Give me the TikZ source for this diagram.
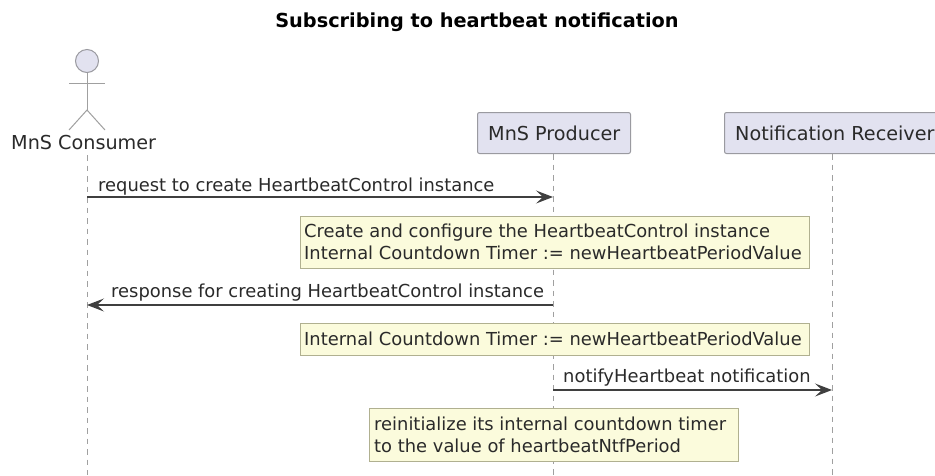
\documentclass[tikz,border=0pt]{standalone}
\usepackage{fontspec}
\setmainfont{DejaVu Sans}
\usetikzlibrary{arrows.meta}
\definecolor{actorfill}{HTML}{E2E2F0}
\definecolor{linegray}{HTML}{A0A0A0}
\definecolor{boxline}{HTML}{9A9AA0}
\definecolor{notefill}{HTML}{FBFBDC}
\definecolor{noteline}{HTML}{B0B090}
\definecolor{txt}{HTML}{2A2A2A}
\tikzset{
  x=1pt,y=-1pt,
  lifeline/.style={draw=linegray,line width=1pt,dash pattern=on 5.5pt off 5pt},
  actorline/.style={draw=linegray,line width=1pt},
  partbox/.style={draw=boxline,fill=actorfill,line width=1pt,rounded corners=2pt,anchor=north west,minimum height=41pt,inner sep=0pt},
  notebox/.style={draw=noteline,fill=notefill,line width=1pt,anchor=north west,inner sep=0pt},
  msg/.style={draw=txt!90,line width=1.2pt},
  tip/.style={-{Stealth[length=17pt,width=13pt,inset=7pt]}},
  lbl/.style={font=\fontsize{17.9pt}{21pt}\selectfont,text=txt,inner sep=0pt,anchor=west},
  biglbl/.style={lbl,font=\fontsize{19.2pt}{23pt}\selectfont},
  titlelbl/.style={font=\fontsize{19.3pt}{23pt}\selectfont\bfseries,text=black,inner sep=0pt},
}
\begin{document}
\begin{tikzpicture}
\useasboundingbox (0,0) rectangle (935,475);
\fill[white] (0,0) rectangle (935,475);
\node[titlelbl] (title) at (477,22) {Subscribing to heartbeat notification};
% lifelines
\coordinate (c1) at (87,155); \coordinate (c2) at (87,475);
\coordinate (p1) at (553,154); \coordinate (p2) at (553,475);
\coordinate (r1) at (832,154); \coordinate (r2) at (832,475);
\draw[lifeline] (c1) -- (c2);
\draw[lifeline] (p1) -- (p2);
\draw[lifeline] (r1) -- (r2);
% actor
\node[circle,draw=boxline,fill=actorfill,line width=1pt,minimum size=23pt,inner sep=0pt] (head) at (87,61) {};
\coordinate (hip) at (87,110);
\coordinate (armL) at (69,83); \coordinate (armR) at (105,83);
\coordinate (legL) at (69,130); \coordinate (legR) at (105,130);
\draw[actorline] (head.south) -- (hip);
\draw[actorline] (armL) -- (armR);
\draw[actorline] (legL) -- (hip) -- (legR);
\node[biglbl] (consumer) at (11,143) {MnS Consumer};
% participants
\node[partbox,minimum width=153pt] (producer) at (477,112) {};
\node[biglbl] (producerT) at (488,133) {MnS Producer};
\node[partbox,minimum width=225pt] (receiver) at (724,112) {};
\node[biglbl] (receiverT) at (735,133) {Notification Receiver};
% messages
\coordinate (m1a) at (87,197); \coordinate (m1b) at (553,197);
\draw[msg,tip] (m1a) -- (m1b);
\node[lbl] (m1) at (98,187) {request to create HeartbeatControl instance};
\node[notebox,minimum width=509pt,minimum height=52pt] (n1) at (300,216) {};
\node[lbl] (n1a) at (304,233) {Create and configure the HeartbeatControl instance};
\node[lbl] (n1b) at (304,253) {Internal Countdown Timer := newHeartbeatPeriodValue};
\coordinate (m2a) at (553,305); \coordinate (m2b) at (87,305);
\draw[msg,tip] (m2a) -- (m2b);
\node[lbl] (m2) at (111,293) {response for creating HeartbeatControl instance};
\node[notebox,minimum width=509pt,minimum height=32pt] (n2) at (300,323) {};
\node[lbl] (n2a) at (304,339) {Internal Countdown Timer := newHeartbeatPeriodValue};
\coordinate (m3a) at (553,390); \coordinate (m3b) at (832,390);
\draw[msg,tip] (m3a) -- (m3b);
\node[lbl] (m3) at (563,378) {notifyHeartbeat notification};
\node[notebox,minimum width=369pt,minimum height=53pt] (n3) at (369,408) {};
\node[lbl] (n3a) at (374,424) {reinitialize its internal countdown timer};
\node[lbl] (n3b) at (374,446) {to the value of heartbeatNtfPeriod};
\end{tikzpicture}
\end{document}
